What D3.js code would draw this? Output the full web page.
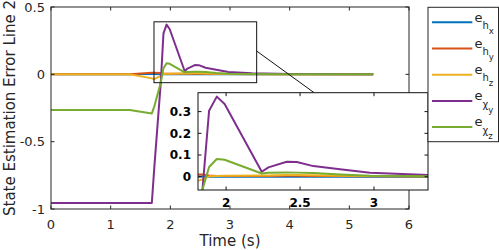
<!DOCTYPE html>
<html><head><meta charset="utf-8">
<script src="https://cdn.jsdelivr.net/npm/d3@7"></script>
<style>body{margin:0;background:#fff}svg{display:block}text{font-family:"DejaVu Sans",sans-serif}</style>
</head><body>
<svg id="c" width="499" height="250"></svg>
<script>
// ---- data ----
const time   = [0, 1.32, 1.69, 1.73, 1.84, 1.885, 1.937, 1.99, 2.241, 2.286, 2.41, 2.478, 2.59, 2.77, 2.973, 3.367, 4.0, 5.4];
const e_hx   = [0, 0, 0.002, 0.002, 0.001, 0, 0, 0, 0, 0, 0, 0, 0, 0, 0, 0, 0, 0];
const e_hy   = [0, 0, 0.012, 0.012, 0.010, 0.006, 0.004, 0.004, 0.004, 0.004, 0.005, 0.005, 0.004, 0.003, 0.002, 0.001, 0, 0];
const e_hz   = [0, 0, -0.030, -0.035, -0.012, 0.002, 0.004, 0.005, 0.006, 0.006, 0.008, 0.008, 0.007, 0.005, 0.003, 0.002, 0.001, 0];
const e_chiy = [-0.955, -0.955, -0.955, -0.70, -0.06, 0.304, 0.369, 0.335, 0.023, 0.043, 0.069, 0.068, 0.049, 0.034, 0.018, 0.008, 0.003, 0];
const e_chiz = [-0.265, -0.265, -0.29, -0.24, -0.06, 0.045, 0.082, 0.078, 0.015, 0.018, 0.02, 0.019, 0.017, 0.01, 0.005, 0.002, 0.001, 0];
const seriesNames = ["h|x", "h|y", "h|z", "χ|y", "χ|z"];
const colors = ["#0072BD", "#D95319", "#EDB120", "#7E2F8E", "#77AC30"];
const xTicks = [0, 1, 2, 3, 4, 5, 6];
const yTicks = [-1, -0.5, 0, 0.5];
const insetXTicks = [2, 2.5, 3];
const insetYTicks = [0, 0.1, 0.2, 0.3];
const zoomRect = {x0: 1.726, x1: 3.447, y0: -0.062, y1: 0.39};
const insetDomainX = [1.81, 3.365];
const insetDomainY = [-0.061, 0.387];

const seriesVals = [e_hx, e_hy, e_hz, e_chiy, e_chiz];
const series = seriesVals.map((v, i) => ({name: seriesNames[i], color: colors[i], pts: time.map((t, j) => [t, v[j]])}));

// ---- layout ----
const svg = d3.select("#c");
const M = {l: 51, r: 409, t: 7, b: 209};
const I = {l: 198, r: 428, t: 92.7, b: 190};
const axisCol = "#262626";

const x = d3.scaleLinear().domain([0, 6]).range([M.l, M.r]);
const y = d3.scaleLinear().domain([-1, 0.5]).range([M.b, M.t]);
const xi = d3.scaleLinear().domain(insetDomainX).range([I.l, I.r]);
const yi = d3.scaleLinear().domain(insetDomainY).range([I.b, I.t]);

const defs = svg.append("defs");
defs.append("clipPath").attr("id", "cm").append("rect").attr("x", M.l).attr("y", M.t).attr("width", M.r - M.l).attr("height", M.b - M.t);
defs.append("clipPath").attr("id", "ci").append("rect").attr("x", I.l).attr("y", I.t).attr("width", I.r - I.l).attr("height", I.b - I.t);

function drawAxes(g, xs, ys, xt, yt, fmtX, fmtY, opts) {
  const [x0, x1] = xs.range(), [y0, y1] = ys.range();
  const tl = 3.5;
  const ax = g.append("g").attr("stroke", opts.stroke).attr("stroke-width", 1);
  xt.forEach(t => {
    ax.append("line").attr("x1", xs(t)).attr("x2", xs(t)).attr("y1", y0).attr("y2", y0 - tl);
    ax.append("line").attr("x1", xs(t)).attr("x2", xs(t)).attr("y1", y1).attr("y2", y1 + tl);
  });
  yt.forEach(t => {
    ax.append("line").attr("y1", ys(t)).attr("y2", ys(t)).attr("x1", x0).attr("x2", x0 + tl);
    ax.append("line").attr("y1", ys(t)).attr("y2", ys(t)).attr("x1", x1).attr("x2", x1 - tl);
  });
  g.append("rect").attr("x", x0).attr("y", y1).attr("width", x1 - x0).attr("height", y0 - y1)
    .attr("fill", "none").attr("stroke", opts.stroke).attr("stroke-width", 1);
  xt.forEach(t => g.append("text").attr("x", xs(t)).attr("y", y0 + opts.xoff).attr("text-anchor", "middle")
    .attr("font-size", opts.fs).attr("font-weight", opts.fw).attr("fill", opts.fill).text(fmtX(t)));
  yt.forEach(t => g.append("text").attr("x", x0 - opts.yoff).attr("y", ys(t)).attr("dy", "0.36em").attr("text-anchor", "end")
    .attr("font-size", opts.fs).attr("font-weight", opts.fw).attr("fill", opts.fill).text(fmtY(t)));
}

const line = (xs, ys) => d3.line().x(d => xs(d[0])).y(d => ys(d[1]));

// main plot
const gm = svg.append("g");
gm.append("g").attr("clip-path", "url(#cm)").selectAll("path").data(series).join("path")
  .attr("d", d => line(x, y)(d.pts)).attr("fill", "none").attr("stroke", d => d.color)
  .attr("stroke-width", 2).attr("stroke-linejoin", "round");
drawAxes(gm, x, y, xTicks, yTicks, d => String(d), d => String(d),
  {stroke: axisCol, fill: axisCol, fs: 13, fw: "normal", xoff: 20, yoff: 6});

// zoom rectangle and connector
gm.append("rect").attr("x", x(zoomRect.x0)).attr("y", y(zoomRect.y1))
  .attr("width", x(zoomRect.x1) - x(zoomRect.x0)).attr("height", y(zoomRect.y0) - y(zoomRect.y1))
  .attr("fill", "none").attr("stroke", "#111").attr("stroke-width", 1);
gm.append("line").attr("x1", x(zoomRect.x1)).attr("y1", y(0.173)).attr("x2", xi(2.595)).attr("y2", I.t)
  .attr("stroke", "#111").attr("stroke-width", 1);

// labels
svg.append("text").attr("x", (M.l + M.r) / 2).attr("y", 245.5).attr("text-anchor", "middle")
  .attr("font-size", 15).attr("fill", axisCol).text("Time (s)");
svg.append("text").attr("transform", `translate(15,${(M.t + M.b) / 2}) rotate(-90)`).attr("text-anchor", "middle")
  .attr("font-size", 15).attr("fill", axisCol).text("State Estimation Error Line 2");

// inset
const gi = svg.append("g");
gi.append("rect").attr("x", I.l).attr("y", I.t).attr("width", I.r - I.l).attr("height", I.b - I.t).attr("fill", "#fff");
gi.append("g").attr("clip-path", "url(#ci)").selectAll("path").data(series).join("path")
  .attr("d", d => line(xi, yi)(d.pts)).attr("fill", "none").attr("stroke", d => d.color)
  .attr("stroke-width", 2).attr("stroke-linejoin", "round");
drawAxes(gi, xi, yi, insetXTicks, insetYTicks, d => String(d), d => String(d),
  {stroke: "#111", fill: "#000", fs: 12, fw: "bold", xoff: 17, yoff: 7});

// legend
const L = {x: 428, y: 7.3, w: 70.5, h: 134.4};
const gl = svg.append("g");
gl.append("rect").attr("x", L.x).attr("y", L.y).attr("width", L.w).attr("height", L.h)
  .attr("fill", "#fff").attr("stroke", axisCol).attr("stroke-width", 1);
series.forEach((s, i) => {
  const cy = 22.3 + i * 26.2;
  gl.append("line").attr("x1", 432).attr("x2", 472.3).attr("y1", cy).attr("y2", cy)
    .attr("stroke", s.color).attr("stroke-width", 2);
  const [sub, subsub] = s.name.split("|");
  const t = gl.append("text").attr("x", 474.5).attr("y", cy - 0.8).attr("fill", axisCol);
  t.append("tspan").attr("font-size", 13).text("e");
  t.append("tspan").attr("font-size", 10).attr("dy", 7.4).text(sub);
  t.append("tspan").attr("font-size", 8.5).attr("dy", 5).text(subsub);
});
</script>
</body></html>
